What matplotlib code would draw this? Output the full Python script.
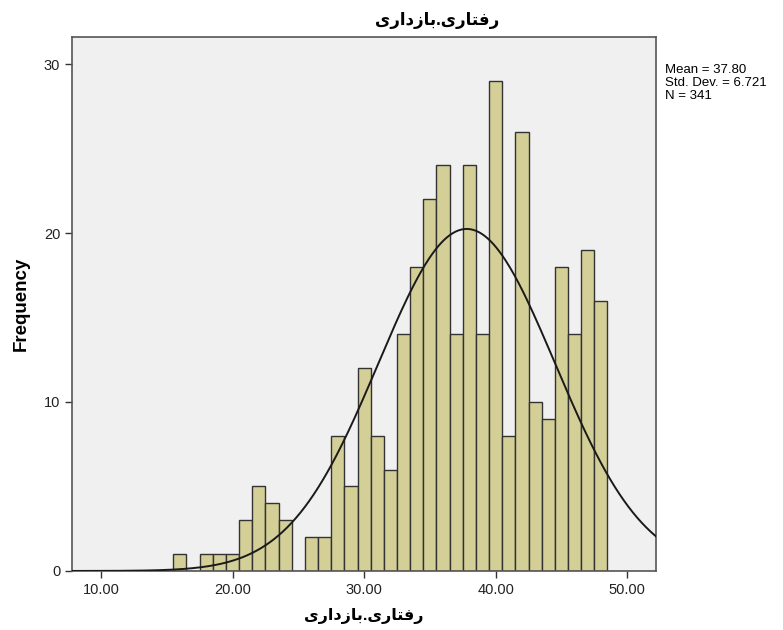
import numpy as np
import matplotlib
matplotlib.use("Agg")
import matplotlib.pyplot as plt

# histogram data (bin centres, width 1)
bin_centers = list(range(16, 49))
counts = [1, 0, 1, 1, 1, 3, 5, 4, 3, 0, 2, 2, 8, 5, 12, 8, 6,
          14, 18, 22, 24, 14, 24, 14, 29, 8, 26, 10, 9, 18, 14, 19, 16]
mean = 37.80
std = 6.721
n = 341
bin_width = 1.0

xticks = [10, 20, 30, 40, 50]
yticks = [0, 10, 20, 30]

# Persian label "رفتاری.بازداری" shaped by hand, visual (left-to-right) order
label = "\uFBFC\uFEAD\uFE8D\uFEA9\uFEAF\uFE8E\uFE91.\uFBFC\uFEAD\uFE8E\uFE98\uFED3\uFEAD"

fam = ["Liberation Sans", "DejaVu Sans"]

fig = plt.figure(figsize=(7.83, 6.3), dpi=100)
ax = fig.add_axes([0.092, 0.0937, 0.746, 0.8476])
ax.set_facecolor("#f0f0f0")

ax.bar(bin_centers, counts, width=bin_width, color="#d3cf97",
       edgecolor="#333333", linewidth=1.0, zorder=2)

xs = np.linspace(7.8, 52.2, 400)
ys = n * bin_width / (std * np.sqrt(2 * np.pi)) * np.exp(-0.5 * ((xs - mean) / std) ** 2)
ax.plot(xs, ys, color="#1a1a1a", linewidth=1.4, zorder=3)

ax.set_xlim(7.8, 52.2)
ax.set_ylim(0, 31.6)
ax.set_xticks(xticks)
ax.set_xticklabels(["%.2f" % v for v in xticks], family=fam, fontsize=10.5, color="#222222")
ax.set_yticks(yticks)
ax.set_yticklabels([str(v) for v in yticks], family=fam, fontsize=10.5, color="#222222")
ax.tick_params(axis="both", direction="out", length=5, width=1, color="#333333")

for s in ax.spines.values():
    s.set_color("#555555")
    s.set_linewidth(1.2)

ax.set_xlabel(label, family=fam, fontsize=11.5, fontweight="bold", labelpad=8)
ax.set_ylabel("Frequency", family=fam, fontsize=13.5, fontweight="bold", labelpad=10)

# SPSS centres the title over the whole chart area, not the plot frame
fig.text(0.558, 0.968, label, family=fam, fontsize=12, fontweight="bold",
         ha="center", va="center")

fig.text(0.849, 0.898, "Mean = 37.80\nStd. Dev. = 6.721\nN = 341",
         family=fam, fontsize=9.5, va="top", ha="left", linespacing=1.12)

fig.savefig("out.png", dpi=100, facecolor="white")
